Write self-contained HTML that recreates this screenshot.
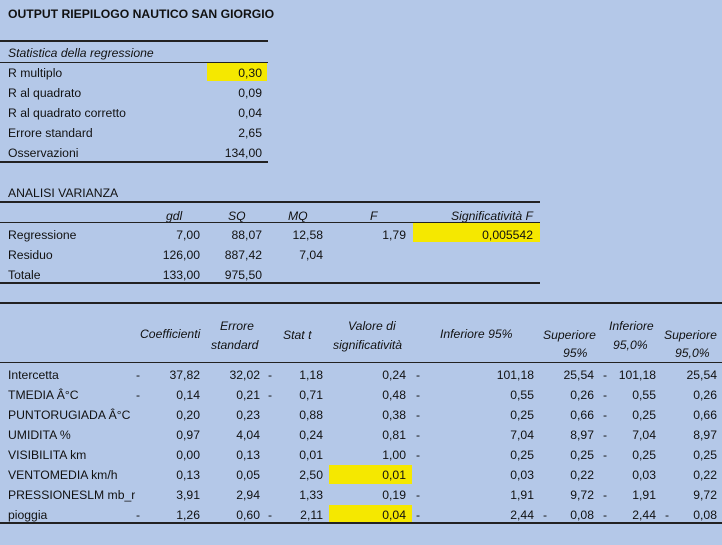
<!DOCTYPE html>
<html><head><meta charset="utf-8">
<style>
body{margin:0;}
#page{position:relative;width:722px;height:545px;background:#b4c8e8;overflow:hidden;font-family:"Liberation Sans",sans-serif;font-size:12.2px;color:#111;}
.t{position:absolute;white-space:nowrap;line-height:16px;}
.r{text-align:right;}
.i{font-style:italic;}
.hl{position:absolute;background:#222;}
.y{position:absolute;background:#f5e800;}
</style></head>
<body>
<div id="page"></div>
<script>
const statLabels=["R multiplo","R al quadrato","R al quadrato corretto","Errore standard","Osservazioni"];
const statValues=["0,30","0,09","0,04","2,65","134,00"];
const anovaLabels=["Regressione","Residuo","Totale"];
const anovaGdl=["7,00","126,00","133,00"];
const anovaSQ=["88,07","887,42","975,50"];
const anovaMQ=["12,58","7,04",""];
const anovaF=["1,79","",""];
const anovaSig=["0,005542","",""];
const coefLabels=["Intercetta","TMEDIA Â°C","PUNTORUGIADA Â°C","UMIDITA %","VISIBILITA km","VENTOMEDIA km/h","PRESSIONESLM mb_ri","pioggia"];
const coefNeg=[1,1,0,0,0,0,0,1];
const coefVals=["37,82","0,14","0,20","0,97","0,00","0,13","3,91","1,26"];
const seVals=["32,02","0,21","0,23","4,04","0,13","0,05","2,94","0,60"];
const tNeg=[1,1,0,0,0,0,0,1];
const tVals=["1,18","0,71","0,88","0,24","0,01","2,50","1,33","2,11"];
const pVals=["0,24","0,48","0,38","0,81","1,00","0,01","0,19","0,04"];
const infNeg=[1,1,1,1,1,0,1,1];
const infVals=["101,18","0,55","0,25","7,04","0,25","0,03","1,91","2,44"];
const supNeg=[0,0,0,0,0,0,0,1];
const supVals=["25,54","0,26","0,66","8,97","0,25","0,22","9,72","0,08"];
const pHighlight=[0,0,0,0,0,1,0,1];

const page=document.getElementById('page');
function mk(cls,x,y,txt,right){
  const d=document.createElement('div');
  d.className='t '+cls;
  if(right){d.style.right=(722-x)+'px';}else{d.style.left=x+'px';}
  d.style.top=(y-8)+'px';
  d.textContent=txt;
  page.appendChild(d);
  return d;
}
function line(x,y,w,h){
  const d=document.createElement('div');
  d.className='hl';
  d.style.left=x+'px';d.style.top=y+'px';d.style.width=w+'px';d.style.height=(h||1)+'px';
  page.appendChild(d);
  return d;
}
function yel(x,y,w,h){
  const d=document.createElement('div');
  d.className='y';
  d.style.left=x+'px';d.style.top=y+'px';d.style.width=w+'px';d.style.height=h+'px';
  page.appendChild(d);
  return d;
}
let e;
e=mk('',8,14,'OUTPUT RIEPILOGO NAUTICO SAN GIORGIO');e.style.fontWeight='bold';


e=line(0,40,268,2);


e=mk('i',8,53,'Statistica della regressione');


e=line(0,62,268,1);


e=yel(207,63,60,18);


statLabels.forEach((l,i)=>{
  const y=73+i*20;
  let a=mk('',8,y,l);
  
  
  let b=mk('r',262,y,statValues[i],true);
  
  
});
e=line(0,161,268,2);



e=mk('',8,193,'ANALISI VARIANZA');


e=line(0,201,540,2);


[['gdl',166],['SQ',228],['MQ',288],['F',370]].forEach(h=>{
  let a=mk('i',h[1],216,h[0]);
  
  
});
e=mk('i r',533,216,'Significatività F',true);


e=line(0,222,540,1);


e=yel(413,223,127,19);


anovaLabels.forEach((l,i)=>{
  const y=235+i*20;
  let a=mk('',8,y,l);
  
  
  [[anovaGdl,200],[anovaSQ,262],[anovaMQ,323],[anovaF,406],[anovaSig,533]].forEach(c=>{
    if(c[0][i]){
      let b=mk('r',c[1],y,c[0][i],true);
      
      
    }
  });
});
e=line(0,282,540,2);



e=line(0,302,722,2);


[['Coefficienti',140,334],['Errore',220,326],['standard',211,345],['Stat t',283,335],['Valore di',348,326],['significatività',333,345],['Inferiore 95%',440,334],['Superiore',543,335],['95%',563,353],['Inferiore',609,326],['95,0%',613,345],['Superiore',664,335],['95,0%',675,353]].forEach(h=>{
  let a=mk('i',h[1],h[2],h[0]);
  
  
});
e=line(0,362,722,1);


coefLabels.forEach((l,i)=>{
  const y=375+i*20;
  if(pHighlight[i]){
    let h=yel(329,y-10,83,19);
    
    
  }
  let a=mk('',8,y,l);
  a.style.width='127px';a.style.overflow='hidden';
  
  
  const cells=[[coefVals[i],200],[seVals[i],260],[tVals[i],323],[pVals[i],406],[infVals[i],534],[supVals[i],594],[infVals[i],656],[supVals[i],717]];
  cells.forEach(c=>{
    let b=mk('r',c[1],y,c[0],true);
    
    
  });
  const dashes=[];
  if(coefNeg[i])dashes.push(136);
  if(tNeg[i])dashes.push(268);
  if(infNeg[i]){dashes.push(416);dashes.push(603);}
  if(supNeg[i]){dashes.push(543);dashes.push(665);}
  dashes.forEach(x=>{
    let d=mk('',x,y,'-');
    
    
  });
});
e=line(0,522,722,2);


</script>
</body></html>
